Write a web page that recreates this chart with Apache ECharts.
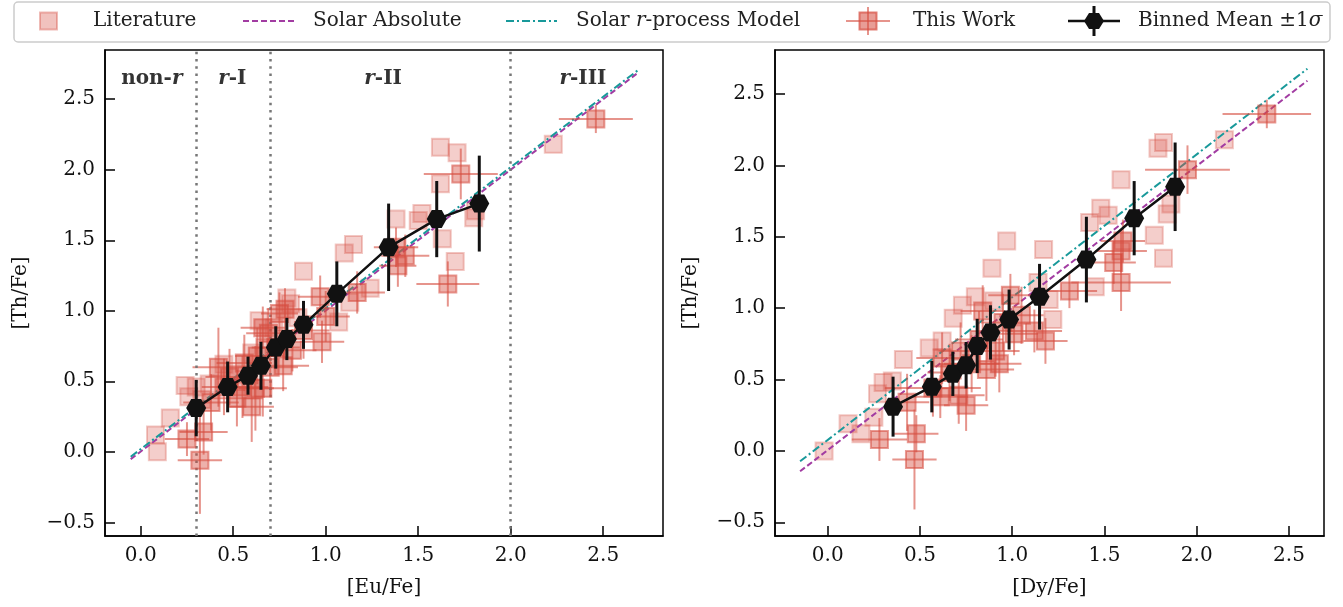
<!DOCTYPE html>
<html>
<head>
<meta charset="utf-8">
<script src="https://cdn.jsdelivr.net/npm/echarts@6/dist/echarts.min.js"></script>
<style>
  html, body { margin: 0; padding: 0; background: #fff; }
  #chart { width: 1343px; height: 607px; }
</style>
</head>
<body>
<div id="chart"></div>
<script>
// ---- data ----
// left panel: [Eu/Fe] vs [Th/Fe]
var litEu = [
  [0.08, 0.12], [0.09, 0.00], [0.16, 0.24], [0.24, 0.47], [0.26, 0.39], [0.30, 0.46],
  [0.37, 0.48], [0.33, 0.37], [0.45, 0.62], [0.52, 0.55], [0.64, 0.93], [0.67, 0.74],
  [0.79, 1.09], [0.81, 1.05], [0.88, 1.28], [0.85, 0.95], [1.07, 0.92], [1.10, 1.41],
  [1.15, 1.47], [1.24, 1.16], [1.13, 1.06], [1.38, 1.65], [1.52, 1.69], [1.50, 1.64],
  [1.62, 1.90], [1.63, 1.51], [1.62, 2.16], [1.71, 2.12], [1.70, 1.35], [1.80, 1.66],
  [1.81, 1.71], [2.23, 2.18], [0.72, 0.88], [0.60, 0.70]
];
// [x, y, xerr, yerr]
var workEu = [
  [0.32, -0.06, 0.12, 0.38], [0.25, 0.09, 0.12, 0.12], [0.34, 0.14, 0.13, 0.16],
  [0.38, 0.35, 0.15, 0.20], [0.42, 0.60, 0.14, 0.28], [0.48, 0.53, 0.13, 0.20],
  [0.55, 0.46, 0.14, 0.22], [0.60, 0.32, 0.12, 0.25], [0.66, 0.45, 0.13, 0.20],
  [0.56, 0.63, 0.15, 0.20], [0.69, 0.84, 0.12, 0.18], [0.73, 0.74, 0.13, 0.15],
  [0.77, 0.61, 0.14, 0.18], [0.82, 0.72, 0.13, 0.15], [0.78, 1.01, 0.10, 0.15],
  [0.97, 1.10, 0.12, 0.15], [1.00, 0.96, 0.13, 0.18], [0.98, 0.78, 0.12, 0.15],
  [1.17, 1.13, 0.15, 0.15], [1.38, 1.45, 0.12, 0.14], [1.43, 1.39, 0.13, 0.15],
  [1.39, 1.32, 0.10, 0.15], [1.66, 1.19, 0.17, 0.16], [1.73, 1.97, 0.20, 0.18],
  [2.46, 2.36, 0.20, 0.10], [0.45, 0.46, 0.12, 0.20], [0.62, 0.45, 0.10, 0.30],
  [0.63, 0.68, 0.12, 0.20], [0.88, 0.86, 0.14, 0.20], [0.70, 0.60, 0.15, 0.20],
  [0.52, 0.38, 0.14, 0.20], [0.66, 0.88, 0.12, 0.15], [0.75, 0.98, 0.10, 0.15]
];
// [x, y, yerr]
var binEu = [
  [0.30, 0.31, 0.20], [0.47, 0.46, 0.18], [0.58, 0.54, 0.135], [0.65, 0.61, 0.17],
  [0.73, 0.74, 0.15], [0.79, 0.80, 0.15], [0.88, 0.90, 0.17], [1.06, 1.12, 0.23],
  [1.34, 1.45, 0.31], [1.60, 1.65, 0.27], [1.83, 1.76, 0.34]
];
var solarAbsEu = [[-0.054, -0.052], [2.68, 2.68]];
var solarRprocEu = [[-0.054, -0.035], [2.69, 2.708]];
var regionCuts = [0.3, 0.7, 2.0];
var regionNames = ['non-r', 'r-I', 'r-II', 'r-III'];
var regionX = [0.06, 0.495, 1.31, 2.39];
var regionY = 2.645;

// right panel: [Dy/Fe] vs [Th/Fe]
var litDy = [
  [-0.02, 0.00], [0.11, 0.19], [0.18, 0.12], [0.25, 0.235], [0.30, 0.48], [0.35, 0.49],
  [0.41, 0.64], [0.27, 0.40], [0.68, 0.93], [0.80, 1.08], [0.89, 1.28], [0.97, 1.47],
  [1.17, 1.41], [1.20, 1.06], [1.22, 0.92], [1.14, 1.18], [1.45, 1.15], [1.42, 1.60],
  [1.48, 1.70], [1.52, 1.65], [1.59, 1.90], [1.77, 1.51], [1.82, 1.35], [1.79, 2.12],
  [1.82, 2.16], [1.84, 1.66], [1.86, 1.73], [2.15, 2.18], [0.90, 1.05], [0.62, 0.77],
  [0.55, 0.72], [0.73, 1.02]
];
var workDy = [
  [0.28, 0.08, 0.15, 0.15], [0.48, 0.12, 0.12, 0.13], [0.47, -0.06, 0.12, 0.35],
  [0.43, 0.34, 0.12, 0.20], [0.61, 0.38, 0.15, 0.15], [0.75, 0.32, 0.12, 0.18],
  [0.71, 0.39, 0.14, 0.20], [0.93, 0.61, 0.12, 0.20], [0.91, 0.70, 0.13, 0.18],
  [1.01, 0.82, 0.13, 0.15], [1.12, 0.84, 0.15, 0.15], [1.18, 0.77, 0.12, 0.16],
  [0.99, 1.09, 0.12, 0.15], [1.31, 1.12, 0.15, 0.12], [1.59, 1.18, 0.27, 0.20],
  [1.55, 1.32, 0.12, 0.15], [1.59, 1.40, 0.14, 0.15], [1.95, 1.97, 0.23, 0.17],
  [2.38, 2.36, 0.24, 0.10], [0.84, 0.98, 0.12, 0.18], [0.78, 0.61, 0.15, 0.20],
  [0.57, 0.44, 0.26, 0.20], [0.66, 0.55, 0.12, 0.20], [0.82, 0.78, 0.13, 0.20],
  [0.95, 0.90, 0.12, 0.20], [0.72, 0.70, 0.12, 0.20], [1.05, 0.95, 0.12, 0.20],
  [0.62, 0.65, 0.14, 0.18], [0.86, 0.57, 0.15, 0.22], [1.60, 1.47, 0.12, 0.15]
];
var binDy = [
  [0.354, 0.31, 0.21], [0.564, 0.45, 0.18], [0.678, 0.54, 0.155], [0.750, 0.60, 0.163],
  [0.810, 0.735, 0.19], [0.882, 0.83, 0.19], [0.983, 0.92, 0.21], [1.148, 1.08, 0.23],
  [1.402, 1.34, 0.30], [1.661, 1.63, 0.26], [1.883, 1.85, 0.31]
];
var solarAbsDy = [[-0.15, -0.143], [2.60, 2.593]];
var solarRprocDy = [[-0.15, -0.073], [2.60, 2.677]];

var tickVals = [0, 0.5, 1, 1.5, 2, 2.5];
var yTickVals = [-0.5, 0, 0.5, 1, 1.5, 2, 2.5];

// ---- styles ----
var FONT = 'DejaVu Serif';
var RED = 'rgba(214,77,64,';
var PURPLE = '#a23ca2';
var TEAL = '#18999a';
var HEX = 'path://M-1,0 L-0.5,-0.866 L0.5,-0.866 L1,0 L0.5,0.866 L-0.5,0.866 Z';

function fmt(v) {
  return (v < 0 ? '\u2212' : '') + Math.abs(v).toFixed(1);
}

function makeX(idx, min, max, name) {
  return {
    type: 'value', gridIndex: idx, min: min, max: max,
    name: name, nameLocation: 'middle', nameGap: 42,
    nameTextStyle: { fontFamily: FONT, fontSize: 20, color: '#111' },
    splitLine: { show: false },
    axisLine: { show: true, onZero: false, lineStyle: { color: '#000', width: 1.5 } },
    axisTick: { show: true, inside: true, length: 10, customValues: tickVals, lineStyle: { color: '#000', width: 1.5 } },
    axisLabel: { customValues: tickVals, formatter: fmt, margin: 10, fontFamily: FONT, fontSize: 20, color: '#111' }
  };
}
function makeY(idx, min, max) {
  return {
    type: 'value', gridIndex: idx, min: min, max: max,
    name: '[Th/Fe]', nameLocation: 'middle', nameGap: 74, nameRotate: 90,
    nameTextStyle: { fontFamily: FONT, fontSize: 20, color: '#111' },
    splitLine: { show: false },
    axisLine: { show: true, onZero: false, lineStyle: { color: '#000', width: 1.5 } },
    axisTick: { show: true, inside: true, length: 10, customValues: yTickVals, lineStyle: { color: '#000', width: 1.5 } },
    axisLabel: { customValues: yTickVals, formatter: fmt, margin: 10, fontFamily: FONT, fontSize: 20, color: '#111' }
  };
}

function errRender(params, api) {
  var x = api.value(0), y = api.value(1), xe = api.value(2), ye = api.value(3);
  var l = api.coord([x - xe, y]), r = api.coord([x + xe, y]);
  var t = api.coord([x, y + ye]), b = api.coord([x, y - ye]);
  var st = { stroke: RED + '0.6)', lineWidth: 2 };
  return { type: 'group', children: [
    { type: 'line', shape: { x1: l[0], y1: l[1], x2: r[0], y2: r[1] }, style: st },
    { type: 'line', shape: { x1: t[0], y1: t[1], x2: b[0], y2: b[1] }, style: st }
  ] };
}
function binErrRender(params, api) {
  var x = api.value(0), y = api.value(1), ye = api.value(2);
  var t = api.coord([x, y + ye]), b = api.coord([x, y - ye]);
  return { type: 'line', shape: { x1: t[0], y1: t[1], x2: b[0], y2: b[1] },
    style: { stroke: '#111', lineWidth: 3 } };
}

function panelSeries(idx, lit, work, bins, abs, rproc) {
  var s = [];
  s.push({
    type: 'scatter', xAxisIndex: idx, yAxisIndex: idx, data: lit, symbol: 'rect', symbolSize: 17, z: 2,
    itemStyle: { color: RED + '0.34)', borderColor: RED + '0.38)', borderWidth: 2 }, silent: true
  });
  s.push({
    type: 'line', xAxisIndex: idx, yAxisIndex: idx, data: abs, showSymbol: false, z: 3,
    lineStyle: { color: PURPLE, width: 2, type: [6, 3] }, silent: true
  });
  s.push({
    type: 'line', xAxisIndex: idx, yAxisIndex: idx, data: rproc, showSymbol: false, z: 3,
    lineStyle: { color: TEAL, width: 2, type: [8, 3, 2, 3] }, silent: true
  });
  s.push({
    type: 'custom', xAxisIndex: idx, yAxisIndex: idx, data: work, renderItem: errRender, z: 4,
    encode: { x: 0, y: 1 }, silent: true
  });
  s.push({
    type: 'scatter', xAxisIndex: idx, yAxisIndex: idx, data: work.map(function (d) { return [d[0], d[1]]; }),
    symbol: 'rect', symbolSize: 17, z: 5,
    itemStyle: { color: RED + '0.55)', borderColor: RED + '0.7)', borderWidth: 2 }, silent: true
  });
  s.push({
    type: 'custom', xAxisIndex: idx, yAxisIndex: idx, data: bins, renderItem: binErrRender, z: 6,
    encode: { x: 0, y: 1 }, silent: true
  });
  s.push({
    type: 'line', xAxisIndex: idx, yAxisIndex: idx, data: bins.map(function (d) { return [d[0], d[1]]; }),
    symbol: HEX, symbolSize: [20, 18], showSymbol: true, z: 7,
    itemStyle: { color: '#111' }, lineStyle: { color: '#111', width: 2.5 }, silent: true
  });
  return s;
}

var series = panelSeries(0, litEu, workEu, binEu, solarAbsEu, solarRprocEu)
  .concat(panelSeries(1, litDy, workDy, binDy, solarAbsDy, solarRprocDy));

// region separators
series.push({
  type: 'line', xAxisIndex: 0, yAxisIndex: 0, data: [], z: 1,
  markLine: {
    silent: true, symbol: ['none', 'none'], label: { show: false },
    lineStyle: { color: '#777', width: 2.5, type: [2.5, 4.8] },
    data: regionCuts.map(function (v) { return { xAxis: v }; })
  }
});
// region labels
var regionRich = {
  'non-r': '{b|non-}{i|r}', 'r-I': '{i|r}{b|-I}', 'r-II': '{i|r}{b|-II}', 'r-III': '{i|r}{b|-III}'
};
series.push({
  type: 'scatter', xAxisIndex: 0, yAxisIndex: 0, symbolSize: 0, z: 8, silent: true,
  data: regionNames.map(function (n, i) { return [regionX[i], regionY, n]; }),
  label: {
    show: true, position: 'inside', color: '#000', textBorderWidth: 0,
    formatter: function (p) { return regionRich[p.data[2]]; },
    rich: {
      b: { fontFamily: FONT, fontWeight: 'bold', fontSize: 20, color: '#000', textBorderWidth: 0 },
      i: { fontFamily: FONT, fontWeight: 'bold', fontStyle: 'italic', fontSize: 20, color: '#000', textBorderWidth: 0 }
    }
  }
});

// legend drawn as graphics
var LY = 21;
var txt = { fontFamily: FONT, fontSize: 20, fill: '#222', verticalAlign: 'middle' };
function legendText(x, text, rich) {
  return { type: 'text', x: x, y: LY, style: Object.assign({ text: text, rich: rich }, txt) };
}
var graphic = [
  { type: 'rect', shape: { x: 14, y: 2, width: 1316, height: 40, r: 4 },
    style: { fill: '#fff', stroke: '#cccccc', lineWidth: 1.5 } },
  { type: 'rect', shape: { x: 40, y: LY - 8.5, width: 17, height: 17 },
    style: { fill: RED + '0.34)', stroke: RED + '0.38)', lineWidth: 2 } },
  legendText(93, 'Literature'),
  { type: 'line', shape: { x1: 243, y1: LY, x2: 294, y2: LY },
    style: { stroke: PURPLE, lineWidth: 2, lineDash: [6, 3] } },
  legendText(313, 'Solar Absolute'),
  { type: 'line', shape: { x1: 506, y1: LY, x2: 557, y2: LY },
    style: { stroke: TEAL, lineWidth: 2, lineDash: [8, 3, 2, 3] } },
  legendText(576, '{n|Solar }{i|r}{n|-process Model}', {
    n: { fontFamily: FONT, fontSize: 20, fill: '#222' },
    i: { fontFamily: FONT, fontSize: 20, fontStyle: 'italic', fill: '#222' }
  }),
  { type: 'line', shape: { x1: 846, y1: LY, x2: 890, y2: LY }, style: { stroke: RED + '0.6)', lineWidth: 2 } },
  { type: 'line', shape: { x1: 868, y1: LY - 14, x2: 868, y2: LY + 14 }, style: { stroke: RED + '0.6)', lineWidth: 2 } },
  { type: 'rect', shape: { x: 859.5, y: LY - 8.5, width: 17, height: 17 },
    style: { fill: RED + '0.55)', stroke: RED + '0.7)', lineWidth: 2 } },
  legendText(913, 'This Work'),
  { type: 'line', shape: { x1: 1068, y1: LY, x2: 1120, y2: LY }, style: { stroke: '#111', lineWidth: 2.5 } },
  { type: 'line', shape: { x1: 1094, y1: LY - 15, x2: 1094, y2: LY + 15 }, style: { stroke: '#111', lineWidth: 3 } },
  { type: 'polygon', shape: { points: [[1084, LY], [1089, LY - 8], [1099, LY - 8], [1104, LY], [1099, LY + 8], [1089, LY + 8]] },
    style: { fill: '#111' } },
  legendText(1138, '{n|Binned Mean \u00b11}{i|\u03c3}', {
    n: { fontFamily: FONT, fontSize: 20, fill: '#222' },
    i: { fontFamily: FONT, fontSize: 20, fontStyle: 'italic', fill: '#222' }
  })
];

var chart = echarts.init(document.getElementById('chart'), null, { renderer: 'canvas' });
chart.setOption({
  animation: false,
  backgroundColor: '#fff',
  grid: [
    { left: 105, top: 50, width: 558, height: 486, show: true, borderColor: '#000', borderWidth: 1.5, backgroundColor: 'transparent' },
    { left: 775, top: 50, width: 549, height: 486, show: true, borderColor: '#000', borderWidth: 1.5, backgroundColor: 'transparent' }
  ],
  xAxis: [makeX(0, -0.193, 2.823, '[Eu/Fe]'), makeX(1, -0.286, 2.69, '[Dy/Fe]')],
  yAxis: [makeY(0, -0.597, 2.849), makeY(1, -0.596, 2.808)],
  series: series,
  graphic: graphic
});
</script>
</body>
</html>
